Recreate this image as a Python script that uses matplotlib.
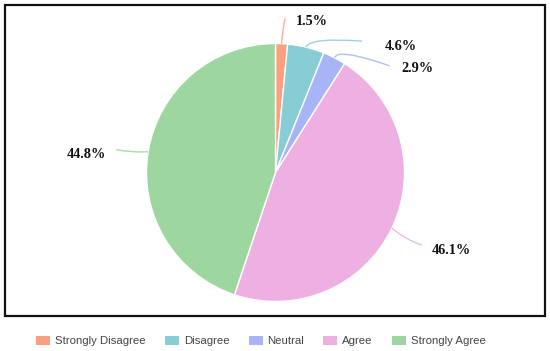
import matplotlib
matplotlib.use("Agg")
import matplotlib.pyplot as plt
import numpy as np
from matplotlib.patches import Rectangle, Patch, PathPatch
from matplotlib.path import Path

categories = ["Strongly Disagree", "Disagree", "Neutral", "Agree", "Strongly Agree"]
values = [1.5, 4.6, 2.9, 46.1, 44.8]
labels = ["1.5%", "4.6%", "2.9%", "46.1%", "44.8%"]
colors = ["#fc9f7f", "#88cdd6", "#a7b4f5", "#eeafe2", "#9ed69f"]

W, H = 550, 351
fig = plt.figure(figsize=(W / 100, H / 100), dpi=100)

cx, cy, R = 275.5, 172.5, 129.0
ax = fig.add_axes([(cx - R) / W, (H - cy - R) / H, 2 * R / W, 2 * R / H])
wedges, _ = ax.pie(values, colors=colors, startangle=90, counterclock=False,
                   radius=1, wedgeprops=dict(edgecolor="white", linewidth=1.0))
ax.set_xlim(-1, 1)
ax.set_ylim(-1, 1)
ax.set_aspect("equal")
ax.axis("off")

# leader layout in screen px (x right, y down) relative to the slice edge point:
# (elbow, end of line, label anchor)
layout = [
    ((1, -15), (3.5, -25), (14, -22)),
    ((4, -10), (56, -6), (79, -1)),
    ((3, -10), (55, 8), (67, 11)),
    ((14, 12), (30, 17), (40, 22)),
    ((-16, 1), (-32, -2), (-42, 3)),
]

for w, lab, col, (el, en, lo) in zip(wedges, labels, colors, layout):
    ang = np.deg2rad((w.theta1 + w.theta2) / 2)
    x0, y0 = np.cos(ang), np.sin(ang)
    s = 1 / R
    p0 = (x0, y0)
    p1 = (x0 + el[0] * s, y0 - el[1] * s)
    p2 = (x0 + en[0] * s, y0 - en[1] * s)
    path = Path([p0, p1, p2], [Path.MOVETO, Path.CURVE3, Path.CURVE3])
    ax.add_patch(PathPatch(path, fill=False, edgecolor=col, linewidth=1.0,
                           clip_on=False, alpha=0.85))
    ha = "left" if lo[0] > 0 else "right"
    ax.text(x0 + lo[0] * s, y0 - lo[1] * s, lab, ha=ha, va="center",
            fontsize=10.3, fontweight="bold", family="Liberation Serif",
            color="#111111", clip_on=False)

# frame
fig.patches.append(Rectangle((4.5 / W, 1 - 316 / H), (545 - 4.5) / W, (316 - 4.5) / H,
                             transform=fig.transFigure, fill=False,
                             edgecolor="#111111", linewidth=1.6))

handles = [Patch(facecolor=c, edgecolor="none") for c in colors]
leg = fig.legend(handles, categories, loc="center",
                 bbox_to_anchor=(261 / W, 1 - 341 / H),
                 ncol=5, frameon=False, handlelength=1.23,
                 handleheight=0.88, handletextpad=0.44, columnspacing=1.67,
                 prop=dict(family="Liberation Sans", size=8.2))
for t in leg.get_texts():
    t.set_color("#444444")

fig.savefig("out.png", dpi=100)
